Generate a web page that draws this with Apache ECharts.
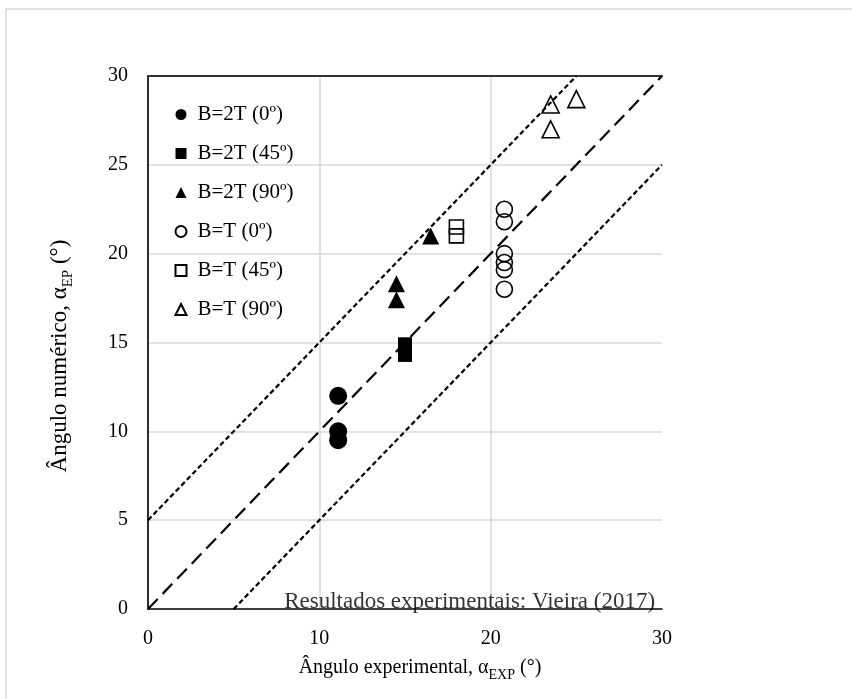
<!DOCTYPE html>
<html>
<head>
<meta charset="utf-8">
<script src="https://cdn.jsdelivr.net/npm/echarts@6/dist/echarts.min.js"></script>
<style>html,body{margin:0;padding:0;background:#fff}#c{width:852px;height:699px}</style>
</head>
<body>
<div id="c"></div>
<script>
// Data (x = experimental angle, y = numerical angle)
const seriesNames = ['B=2T (0º)', 'B=2T (45º)', 'B=2T (90º)', 'B=T (0º)', 'B=T (45º)', 'B=T (90º)'];
const b2t0 = [[11.1, 12.0], [11.1, 10.0], [11.1, 9.5]];
const b2t45 = [[15.0, 14.9], [15.0, 14.6], [15.0, 14.3]];
const b2t90 = [[16.5, 21.0], [14.5, 18.3], [14.5, 17.4]];
const bt0 = [[20.8, 22.5], [20.8, 21.8], [20.8, 20.0], [20.8, 19.5], [20.8, 19.1], [20.8, 18.0]];
const bt45 = [[18.0, 21.5], [18.0, 21.0]];
const bt90 = [[23.5, 28.4], [25.0, 28.7], [23.5, 27.0]];
const lineUpper = [[0, 5], [25, 30]];
const lineEqual = [[0, 0], [30, 30]];
const lineLower = [[5, 0], [30, 25]];
const noteText = 'Resultados experimentais: Vieira (2017)';
const xTitle = ['Ângulo experimental, α', 'EXP', ' (°)'];
const yTitle = ['Ângulo numérico, α', 'EP', ' (°)'];

const FONT = "'Liberation Serif', 'Times New Roman', serif";
const chart = echarts.init(document.getElementById('c'), null, {renderer: 'canvas'});

function filled(name, data, symbol, size) {
  return {name, type: 'scatter', data, symbol, symbolSize: size, z: 5,
    itemStyle: {color: '#000', borderColor: '#000', borderWidth: 0, opacity: 1}};
}
function hollow(name, data, symbol, size) {
  return {name, type: 'scatter', data, symbol, symbolSize: size, z: 5,
    itemStyle: {color: 'rgba(255,255,255,0)', borderColor: '#000', borderWidth: 1.6, opacity: 1}};
}
function refLine(data, dash) {
  return {type: 'line', data, symbol: 'none', silent: true, z: 3,
    lineStyle: {color: '#000', width: 2.2, type: dash}};
}
function titleRich(size, subSize, drop) {
  return {
    m: {fontFamily: FONT, fontSize: size, fill: '#000', color: '#000', padding: [0, 0, drop, 0], verticalAlign: 'bottom'},
    s: {fontFamily: FONT, fontSize: subSize, fill: '#000', color: '#000', verticalAlign: 'bottom'}
  };
}

const option = {
  animation: false,
  backgroundColor: '#fff',
  textStyle: {fontFamily: FONT},
  graphic: [
    {type: 'rect', shape: {x: 6, y: 9, width: 1000, height: 1000}, style: {fill: 'none', stroke: '#d9d9d9', lineWidth: 1.5}, z: 0},
    {type: 'text', x: 420, y: 670, z: 10,
      style: {text: '{m|' + xTitle[0] + '}{s|' + xTitle[1] + '}{m|' + xTitle[2] + '}',
        rich: titleRich(20, 14, 5), align: 'center', verticalAlign: 'middle'}},
    {type: 'text', x: 62, y: 356, rotation: Math.PI / 2, z: 10,
      style: {text: '{m|' + yTitle[0] + '}{s|' + yTitle[1] + '}{m|' + yTitle[2] + '}',
        rich: titleRich(23, 15, 5), align: 'center', verticalAlign: 'middle'}}
  ],
  grid: {left: 148, right: 190, top: 76, bottom: 90},
  legend: {
    data: seriesNames,
    orient: 'vertical', left: 174.5, top: 104, padding: 0,
    itemWidth: 11, itemHeight: 11, itemGap: 18,
    textStyle: {fontFamily: FONT, fontSize: 21, color: '#000', lineHeight: 21, padding: [0, 0, 0, 6]}
  },
  xAxis: [{
    type: 'value', min: 0, max: 30, interval: 10,
    axisLine: {show: true, onZero: false, lineStyle: {color: '#000', width: 1.6}},
    axisTick: {show: false},
    axisLabel: {fontFamily: FONT, fontSize: 20, color: '#000', margin: 20},
    splitLine: {show: true, showMaxLine: false, lineStyle: {color: '#d9d9d9', width: 1.5}}
  }, {
    type: 'value', min: 0, max: 30, position: 'top',
    axisLine: {show: true, onZero: false, lineStyle: {color: '#333', width: 2}},
    axisTick: {show: false}, axisLabel: {show: false}, splitLine: {show: false}
  }],
  yAxis: {
    type: 'value', min: 0, max: 30, interval: 5,
    axisLine: {show: true, onZero: false, lineStyle: {color: '#000', width: 1.6}},
    axisTick: {show: false},
    axisLabel: {fontFamily: FONT, fontSize: 20, color: '#000', margin: 20},
    splitLine: {show: true, showMaxLine: false, showMinLine: false, lineStyle: {color: '#d9d9d9', width: 1.5}}
  },
  series: [
    refLine(lineUpper, [5, 3]),
    refLine(lineEqual, [14, 7]),
    refLine(lineLower, [5, 3]),
    filled(seriesNames[0], b2t0, 'circle', 18),
    filled(seriesNames[1], b2t45, 'rect', 14),
    filled(seriesNames[2], b2t90, 'triangle', 17),
    hollow(seriesNames[3], bt0, 'circle', 16),
    hollow(seriesNames[4], bt45, 'rect', 14),
    hollow(seriesNames[5], bt90, 'triangle', 17),
    {type: 'scatter', data: [[29.6, 0.4]], symbolSize: 0, silent: true, z: 6,
      label: {show: true, position: 'left', distance: 0, formatter: noteText,
        fontFamily: FONT, fontSize: 23, color: '#000'}}
  ]
};
chart.setOption(option);
</script>
</body>
</html>
